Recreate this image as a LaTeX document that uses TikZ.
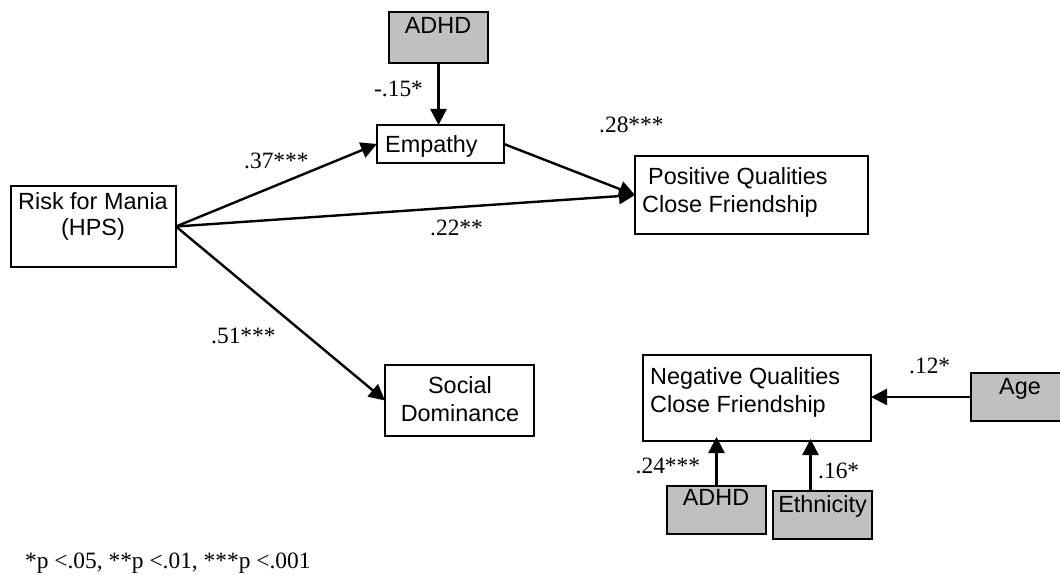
\documentclass[tikz,border=0pt]{standalone}
\usepackage{fontspec}
\setmainfont{Liberation Serif}
\newfontfamily\boxfont{Liberation Sans}
\usetikzlibrary{arrows.meta}
\definecolor{covgray}{HTML}{C0C0C0}
\tikzset{
  box/.style={draw=black, line width=2pt, fill=white, inner sep=0pt, outer sep=0pt},
  covbox/.style={box, fill=covgray},
  boxtext/.style={font=\boxfont\fontsize{23.4}{28}\selectfont, inner sep=0pt},
  coef/.style={font=\fontsize{23.4}{28}\selectfont, inner sep=0pt, anchor=base west},
  path/.style={line width=2.4pt, -{Triangle[length=16pt,width=16pt]}},
}
\begin{document}
\begin{tikzpicture}[x=1pt,y=-1pt]
\useasboundingbox (0,0) rectangle (1060,575);
\clip (0,0) rectangle (1060,575);

% boxes
\node[covbox, minimum width=99pt, minimum height=51pt] (adhdA) at (438.5,37.5) {};
\node[box, minimum width=127pt, minimum height=38pt] (emp) at (440.5,144) {};
\node[box, minimum width=165pt, minimum height=81pt] (risk) at (93.5,226.5) {};
\node[box, minimum width=233pt, minimum height=78pt] (pos) at (751.5,195) {};
\node[box, minimum width=149pt, minimum height=71pt] (soc) at (459.5,400.5) {};
\node[box, minimum width=228pt, minimum height=86pt] (neg) at (757,398) {};
\node[covbox, minimum width=104pt, minimum height=48pt] (age) at (1023,397) {};
\node[covbox, minimum width=99pt, minimum height=48pt] (adhdB) at (716.5,510) {};
\node[covbox, minimum width=99pt, minimum height=48pt] (eth) at (822.5,515) {};

% box texts
\node[boxtext, anchor=base] (tadhdA) at (438,34) {ADHD};
\begin{scope}
  \clip (377,125) rectangle (504,158);
  \node[boxtext, anchor=base west] (temp) at (385,153) {Empathy};
\end{scope}
\node[boxtext, anchor=base] (trisk1) at (93,209) {Risk for Mania};
\node[boxtext, anchor=base] (trisk2) at (93,235) {(HPS)};
\node[boxtext, anchor=base west] (tpos1) at (648,184) {Positive Qualities};
\node[boxtext, anchor=base west] (tpos2) at (642,212) {Close Friendship};
\node[boxtext, anchor=base] (tsoc1) at (460,393) {Social};
\node[boxtext, anchor=base] (tsoc2) at (460,421) {Dominance};
\node[boxtext, anchor=base west] (tneg1) at (650,384) {Negative Qualities};
\node[boxtext, anchor=base west] (tneg2) at (650,412) {Close Friendship};
\node[boxtext, anchor=base] (tage) at (1020,394) {Age};
\node[boxtext, anchor=base] (tadhdB) at (716,505) {ADHD};
\node[boxtext, anchor=base] (teth) at (822.5,512) {Ethnicity};

% paths
\draw[path] (risk.east) -- (emp.west);
\draw[path] (risk.east) -- (pos.west);
\draw[path] (risk.east) -- (soc.west);
\draw[path] (emp.east) -- (pos.west);
\draw[path] (adhdA.south) -- (adhdA.south |- emp.north);
\draw[path] (age.west) -- (neg.east |- age.west);
\draw[path] (adhdB.north) -- ([yshift=4pt]adhdB.north |- neg.south);
\draw[path] ([xshift=-12pt]eth.north) -- ([xshift=-12pt,yshift=2pt]eth.north |- neg.south);

% coefficients
\node[coef] (c15) at (374,97) {-.15*};
\node[coef] (c37) at (244,168) {.37***};
\node[coef] (c22) at (430,235) {.22**};
\node[coef] (c28) at (599,133) {.28***};
\node[coef] (c51) at (211,343) {.51***};
\node[coef] (c12) at (909,373) {.12*};
\node[coef] (c24) at (635.5,473) {.24***};
\node[coef] (c16) at (818,478) {.16*};

% significance note
\node[coef] (note) at (25,568) {*p <.05, **p <.01, ***p <.001};
\end{tikzpicture}
\end{document}
